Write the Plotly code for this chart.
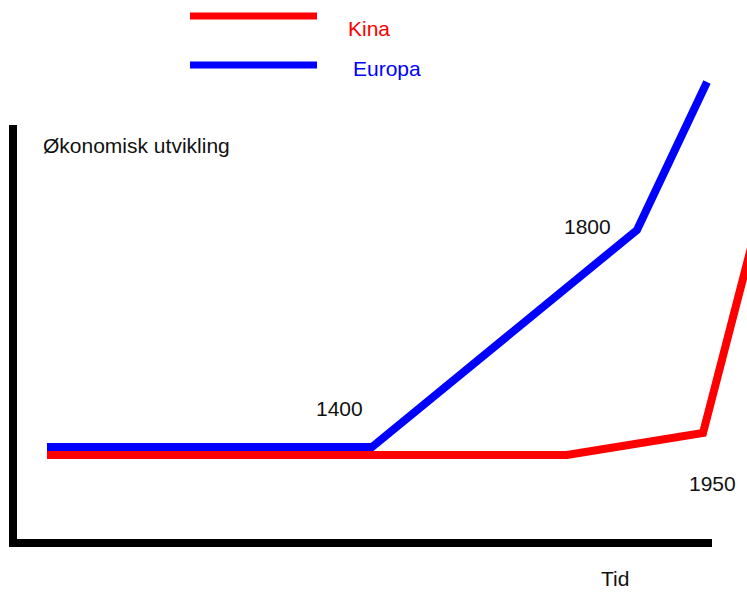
import plotly.graph_objects as go

W, H = 747, 592

# Data (x = time in drawing units, y = economic development in drawing units)
tid_europa = [47, 372, 637, 707]
europa = [145, 145, 362, 510]
tid_kina = [47, 567, 703, 752]
kina = [137, 137, 159, 348]

# Axis frame (hand-drawn L)
axis_x = [13, 13, 712]
axis_y = [467, 49, 49]

# Legend samples
legend_x = [190, 317]
legend_kina_y = 576
legend_europa_y = 527

RED = "#ff0000"
BLUE = "#0000ff"
FONT = "Liberation Sans, Arial, sans-serif"

fig = go.Figure()
fig.add_trace(go.Scatter(x=axis_x, y=axis_y, mode="lines",
                         line=dict(color="black", width=8), hoverinfo="skip"))
fig.add_trace(go.Scatter(x=tid_kina, y=kina, mode="lines", name="Kina",
                         line=dict(color=RED, width=8)))
fig.add_trace(go.Scatter(x=tid_europa, y=europa, mode="lines", name="Europa",
                         line=dict(color=BLUE, width=8)))
fig.add_trace(go.Scatter(x=legend_x, y=[legend_kina_y] * 2, mode="lines",
                         line=dict(color=RED, width=7), hoverinfo="skip"))
fig.add_trace(go.Scatter(x=legend_x, y=[legend_europa_y] * 2, mode="lines",
                         line=dict(color=BLUE, width=7), hoverinfo="skip"))

def label(text, x, y, color="#111111", anchor="left"):
    fig.add_annotation(x=x, y=y, text=text, showarrow=False, xanchor=anchor,
                       yanchor="middle", font=dict(family=FONT, size=21, color=color))

label("Kina", 346, H - 28, RED)
label("Europa", 351, H - 68, BLUE)
label("Økonomisk utvikling", 41, H - 145)
label("1400", 314, H - 408)
label("1800", 562, H - 226)
label("1950", 687, H - 483)
label("Tid", 599, H - 578)

fig.update_layout(
    width=W, height=H, margin=dict(l=0, r=0, t=0, b=0),
    paper_bgcolor="white", plot_bgcolor="white", showlegend=False,
    xaxis=dict(range=[0, W], visible=False, fixedrange=True),
    yaxis=dict(range=[0, H], visible=False, fixedrange=True),
)
fig.write_html(
    "out.html",
    config={"displayModeBar": False},
    post_script="document.body.style.margin='0';document.body.style.overflow='hidden';",
)
